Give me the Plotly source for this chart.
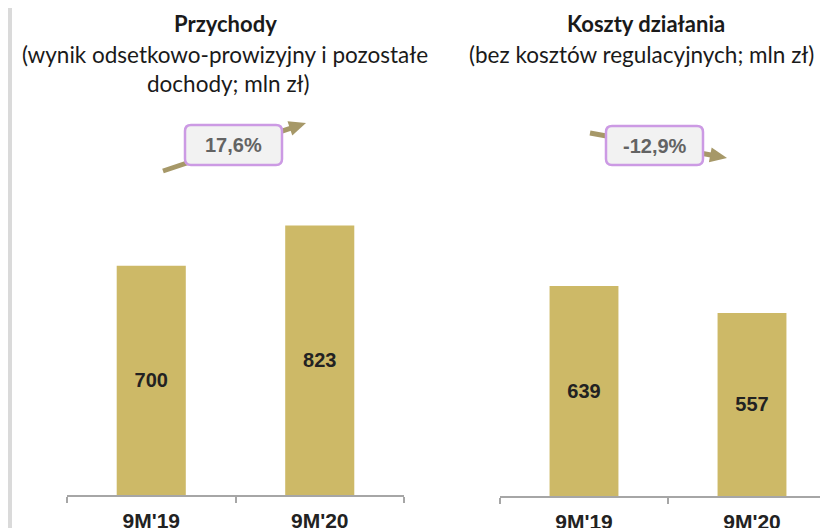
import math
import plotly.graph_objects as go

W, H = 828, 528
OFF = 8  # page body margin: figure starts 8px in from the window corner

# data
categories = ["9M'19", "9M'20"]
przychody = [700, 823]
koszty = [639, 557]
growth_labels = ["17,6%", "-12,9%"]

BAR = "#cdb967"
ARROW = "#a69868"
AXIS = "#a6a6a6"
TXT = "#222222"
TITLE_FONT = "Lato"
NUM_FONT = "Liberation Sans"


def px(x):
    return (x - OFF) / W


def py(y):
    return 1 - (y - OFF) / H


def rounded_box(x0, y0, x1, y1, r):
    # screen pixel coords -> paper path with rounded corners
    pts = [
        ("M", x0 + r, y0), ("L", x1 - r, y0), ("Q", x1, y0, x1, y0 + r),
        ("L", x1, y1 - r), ("Q", x1, y1, x1 - r, y1), ("L", x0 + r, y1),
        ("Q", x0, y1, x0, y1 - r), ("L", x0, y0 + r), ("Q", x0, y0, x0 + r, y0),
    ]
    out = []
    for p in pts:
        nums = p[1:]
        coords = [f"{px(nums[i]):.5f},{py(nums[i + 1]):.5f}" for i in range(0, len(nums), 2)]
        out.append(p[0] + " ".join(coords))
    return " ".join(out) + " Z"


def arrow_shapes(x0, y0, x1, y1, head_len=17, head_w=15, lw=5):
    dx, dy = x1 - x0, y1 - y0
    n = math.hypot(dx, dy)
    ux, uy = dx / n, dy / n
    bx, by = x1 - ux * head_len, y1 - uy * head_len
    nx, ny = -uy, ux
    line = dict(type="line", xref="paper", yref="paper",
                x0=px(x0), y0=py(y0), x1=px(bx + ux * 2), y1=py(by + uy * 2),
                line=dict(color=ARROW, width=lw))
    head = dict(type="path", xref="paper", yref="paper",
                path=f"M{px(x1):.5f},{py(y1):.5f} "
                     f"L{px(bx + nx * head_w / 2):.5f},{py(by + ny * head_w / 2):.5f} "
                     f"L{px(bx - nx * head_w / 2):.5f},{py(by - ny * head_w / 2):.5f} Z",
                fillcolor=ARROW, line=dict(width=0))
    return [line, head]


fig = go.Figure()

bar_text = dict(family=NUM_FONT, size=20, color=TXT, weight="bold")
fig.add_trace(go.Bar(x=categories, y=przychody, text=przychody, xaxis="x", yaxis="y",
                     marker=dict(color=BAR, line=dict(width=0)),
                     textposition="inside", insidetextanchor="middle",
                     textfont=bar_text, constraintext="none"))
fig.add_trace(go.Bar(x=categories, y=koszty, text=koszty, xaxis="x2", yaxis="y2",
                     marker=dict(color=BAR, line=dict(width=0)),
                     textposition="inside", insidetextanchor="middle",
                     textfont=bar_text, constraintext="none"))

xcommon = dict(type="category", showline=True, linecolor=AXIS, linewidth=1.5,
               ticks="outside", tickson="boundaries", ticklen=6, tickcolor=AXIS,
               tickwidth=1.5, showgrid=False, zeroline=False, automargin=False,
               ticklabelstandoff=6,
               tickfont=dict(family=NUM_FONT, size=21, color=TXT, weight="bold"))
axis_y = 495
fig.update_layout(
    xaxis=dict(xcommon, domain=[px(67), px(404)], range=[-0.5, 1.5], anchor="y"),
    xaxis2=dict(xcommon, domain=[px(500), 1], range=[-0.5, 1.5], anchor="y2"),
    yaxis=dict(domain=[py(axis_y), 1], range=[0, (axis_y - OFF) / 0.3276],
               visible=False, anchor="x"),
    yaxis2=dict(domain=[py(axis_y + 1), 1], range=[0, (axis_y + 1 - OFF) / 0.3286],
                visible=False, anchor="x2"),
    bargap=0.59,
    showlegend=False,
    width=W, height=H,
    margin=dict(l=0, r=0, t=0, b=0),
    paper_bgcolor="white", plot_bgcolor="white",
)

shapes = [dict(type="rect", xref="paper", yref="paper", x0=0, x1=4 / W, y0=0, y1=1,
               fillcolor="#dadada", line=dict(width=0), layer="below")]
shapes += arrow_shapes(163, 171, 306, 123)
shapes += arrow_shapes(590, 133, 727, 158)
for (x0, y0, x1, y1) in [(185, 125, 282, 165), (606, 126, 703, 165)]:
    shapes.append(dict(type="path", xref="paper", yref="paper",
                       path=rounded_box(x0, y0, x1, y1, 6),
                       fillcolor="#f2f2f2", line=dict(color="#cc9ae4", width=2.5)))
fig.update_layout(shapes=shapes)

annots = []
titles = [
    (225, 24, "<b>Przychody</b>", 22),
    (225, 54, "(wynik odsetkowo-prowizyjny i pozostałe", 22.5),
    (228, 83, "dochody; mln zł)", 22.5),
    (646, 24, "<b>Koszty działania</b>", 22),
    (641, 54, "(bez kosztów regulacyjnych; mln zł)", 22.5),
]
for x, y, t, s in titles:
    annots.append(dict(x=px(x), y=py(y), xref="paper", yref="paper", text=t,
                       showarrow=False, xanchor="center", yanchor="middle",
                       font=dict(family=TITLE_FONT, size=s, color="#1a1a1a")))
for (cx, cy), lab in zip([(233.5, 145), (654.5, 145.5)], growth_labels):
    annots.append(dict(x=px(cx), y=py(cy), xref="paper", yref="paper", text=lab,
                       showarrow=False, xanchor="center", yanchor="middle",
                       font=dict(family=NUM_FONT, size=20, color="#636363", weight="bold")))
fig.update_layout(annotations=annots)

fig.write_html("out.html")
